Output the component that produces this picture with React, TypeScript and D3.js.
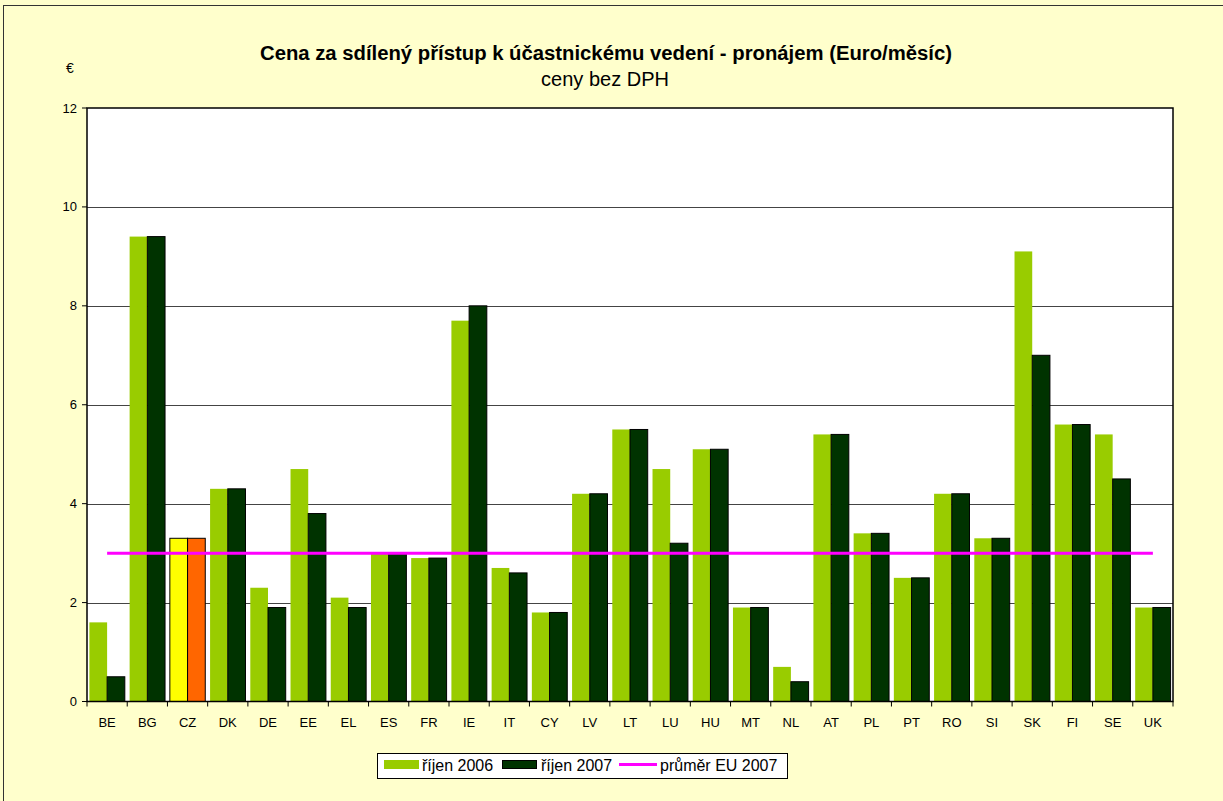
import React from "react";
import * as d3 from "d3";

const categories = ["BE","BG","CZ","DK","DE","EE","EL","ES","FR","IE","IT","CY","LV","LT","LU","HU","MT","NL","AT","PL","PT","RO","SI","SK","FI","SE","UK"];
const values2006 = [1.6,9.4,3.3,4.3,2.3,4.7,2.1,3.0,2.9,7.7,2.7,1.8,4.2,5.5,4.7,5.1,1.9,0.7,5.4,3.4,2.5,4.2,3.3,9.1,5.6,5.4,1.9];
const values2007 = [0.5,9.4,3.3,4.3,1.9,3.8,1.9,3.0,2.9,8.0,2.6,1.8,4.2,5.5,3.2,5.1,1.9,0.4,5.4,3.4,2.5,4.2,3.3,7.0,5.6,4.5,1.9];
const euAverage2007 = 3.0;
const yTicks = [0, 2, 4, 6, 8, 10, 12];
const seriesNames = ["říjen 2006", "říjen 2007", "průměr EU 2007"];
const highlight = "CZ";

const W = 1223, H = 801;
const plot = { left: 87, right: 1173, top: 108, bottom: 701.5 };
const FONT = "Arial, 'Liberation Sans', sans-serif";

const C2006 = "#99CC00";
const C2007 = "#003300";
const CZ2006 = "#FFFF00";
const CZ2007 = "#FF6600";
const PINK = "#FF00FF";

export default function App() {
  const x = d3.scaleBand<string>().domain(categories).range([plot.left, plot.right]).paddingInner(0).paddingOuter(0);
  const xs = d3.scaleBand<string>().domain(["2006", "2007"]).range([0, x.bandwidth()]).paddingInner(0).paddingOuter(0.136);
  const y = d3.scaleLinear().domain([0, 12]).range([plot.bottom, plot.top]);

  const bars: any[] = [];
  categories.forEach((c, i) => {
    const isHl = c === highlight;
    const v6 = values2006[i], v7 = values2007[i];
    bars.push(
      <rect key={c + "6"} x={x(c)! + xs("2006")!} y={y(v6)} width={xs.bandwidth()} height={y(0) - y(v6)}
        fill={isHl ? CZ2006 : C2006} stroke={isHl ? "#000" : "none"} strokeWidth={1} />
    );
    bars.push(
      <rect key={c + "7"} x={x(c)! + xs("2007")!} y={y(v7)} width={xs.bandwidth()} height={y(0) - y(v7)}
        fill={isHl ? CZ2007 : C2007} stroke="#000" strokeWidth={1} />
    );
  });

  const bw = x.bandwidth();
  const lineX1 = x(categories[0])! + bw / 2;
  const lineX2 = x(categories[categories.length - 1])! + bw / 2;

  return (
    <svg width={W} height={H} style={{ position: "absolute", left: 0, top: 0 }} fontFamily={FONT}>
      <rect x={0} y={0} width={W} height={H} fill="#FFFFCC" />
      <rect x={3.5} y={5.5} width={W + 10} height={H + 10} fill="none" stroke="#333" strokeWidth={1} />
      <text x={606} y={60} textAnchor="middle" fontSize={20.3} fontWeight="bold" fill="#000">
        Cena za sdílený přístup k účastnickému vedení - pronájem (Euro/měsíc)
      </text>
      <text x={605} y={86} textAnchor="middle" fontSize={20} fill="#000">ceny bez DPH</text>
      <text x={70} y={73} textAnchor="middle" fontSize={14} fill="#000">€</text>

      <rect x={plot.left} y={plot.top} width={plot.right - plot.left} height={plot.bottom - plot.top} fill="#fff" />
      {yTicks.filter(t => t > 0 && t < 12).map(t => (
        <line key={"g" + t} x1={plot.left} x2={plot.right} y1={Math.round(y(t)) + 0.5} y2={Math.round(y(t)) + 0.5} stroke="#444" strokeWidth={1} />
      ))}
      {bars}
      <line x1={lineX1} x2={lineX2} y1={y(euAverage2007)} y2={y(euAverage2007)} stroke={PINK} strokeWidth={3} />
      <rect x={plot.left} y={plot.top} width={plot.right - plot.left} height={plot.bottom - plot.top} fill="none" stroke="#000" strokeWidth={1.5} />

      {yTicks.map(t => (
        <g key={"y" + t}>
          <line x1={plot.left - 5} x2={plot.left} y1={y(t)} y2={y(t)} stroke="#000" strokeWidth={1} />
          <text x={77} y={y(t) + 4.5} textAnchor="end" fontSize={13} fill="#000">{t}</text>
        </g>
      ))}
      {categories.map((c, i) => (
        <line key={"xt" + i} x1={x(c)!} x2={x(c)!} y1={plot.bottom} y2={plot.bottom + 5} stroke="#000" strokeWidth={1} />
      ))}
      <line x1={plot.right} x2={plot.right} y1={plot.bottom} y2={plot.bottom + 5} stroke="#000" strokeWidth={1} />
      {categories.map(c => (
        <text key={"xl" + c} x={x(c)! + bw / 2} y={727} textAnchor="middle" fontSize={13} fill="#000">{c}</text>
      ))}

      <g>
        <rect x={377.5} y={753.5} width={410} height={25} fill="#fff" stroke="#000" strokeWidth={1} />
        <rect x={384} y={760} width={35} height={9} fill={C2006} />
        <text x={422} y={771} fontSize={16} fill="#000">{seriesNames[0]}</text>
        <rect x={502.5} y={760.5} width={34} height={8} fill={C2007} stroke="#000" strokeWidth={1} />
        <text x={541} y={771} fontSize={16} fill="#000">{seriesNames[1]}</text>
        <line x1={619} x2={657} y1={764.5} y2={764.5} stroke={PINK} strokeWidth={3} />
        <text x={660} y={771} fontSize={16} fill="#000">{seriesNames[2]}</text>
      </g>
    </svg>
  );
}
